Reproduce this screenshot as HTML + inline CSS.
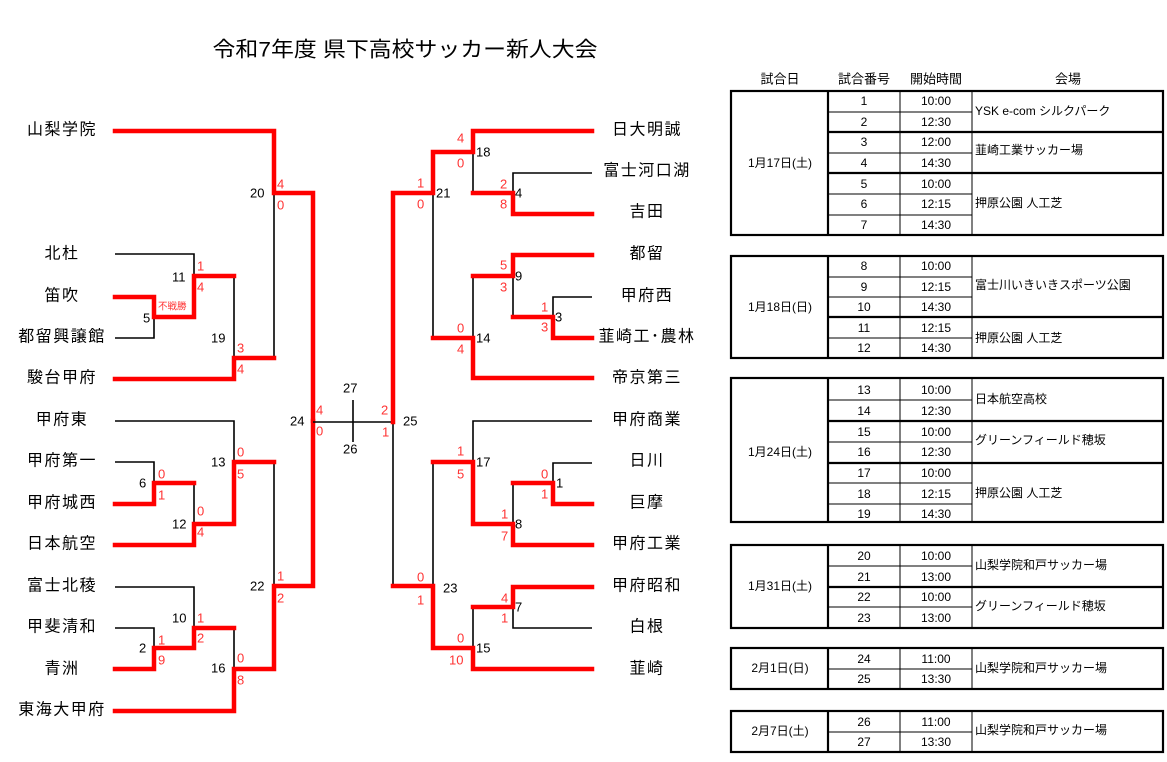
<!DOCTYPE html>
<html><head><meta charset="utf-8"><style>
html,body{margin:0;padding:0;background:#fff;}
svg{display:block;}
text{font-family:"Liberation Sans","Noto Sans CJK JP",sans-serif;}
.r{fill:none;stroke:#f00;stroke-width:4.5;stroke-linejoin:miter;stroke-linecap:square;}
.b{fill:none;stroke:#000;stroke-width:1.6;}
.s{fill:#f33;font-size:13px;dominant-baseline:central;}
.n{fill:#000;font-size:13px;dominant-baseline:central;}
.t{fill:#000;font-size:16px;dominant-baseline:central;text-anchor:middle;letter-spacing:1.5px;}
.h{fill:#000;font-size:13px;dominant-baseline:central;text-anchor:middle;}
.c{fill:#000;font-size:12px;dominant-baseline:central;text-anchor:middle;}
.v{fill:#000;font-size:12px;dominant-baseline:central;}
.tb{stroke:#000;stroke-width:2.2;fill:none;}
.tt{stroke:#000;stroke-width:1;}
</style></head><body>
<svg width="1167" height="762" viewBox="0 0 1167 762" xmlns="http://www.w3.org/2000/svg">
<text x="405" y="50" font-size="21" text-anchor="middle" dominant-baseline="central" textLength="385" lengthAdjust="spacingAndGlyphs">令和7年度 県下高校サッカー新人大会</text>

<!-- left names -->
<g>
<text class="t" x="62" y="130">山梨学院</text>
<text class="t" x="62" y="254">北杜</text>
<text class="t" x="62" y="296">笛吹</text>
<text class="t" x="62" y="337">都留興譲館</text>
<text class="t" x="62" y="378">駿台甲府</text>
<text class="t" x="62" y="420">甲府東</text>
<text class="t" x="62" y="461">甲府第一</text>
<text class="t" x="62" y="503">甲府城西</text>
<text class="t" x="62" y="544">日本航空</text>
<text class="t" x="62" y="586">富士北稜</text>
<text class="t" x="62" y="627">甲斐清和</text>
<text class="t" x="62" y="669">青洲</text>
<text class="t" x="62" y="710">東海大甲府</text>
</g>
<!-- right names -->
<g>
<text class="t" x="647" y="130">日大明誠</text>
<text class="t" x="647" y="171">富士河口湖</text>
<text class="t" x="647" y="212">吉田</text>
<text class="t" x="647" y="254">都留</text>
<text class="t" x="647" y="296">甲府西</text>
<text class="t" x="647" y="337">韮崎工･農林</text>
<text class="t" x="647" y="378">帝京第三</text>
<text class="t" x="647" y="420">甲府商業</text>
<text class="t" x="647" y="461">日川</text>
<text class="t" x="647" y="503">巨摩</text>
<text class="t" x="647" y="544">甲府工業</text>
<text class="t" x="647" y="586">甲府昭和</text>
<text class="t" x="647" y="627">白根</text>
<text class="t" x="647" y="669">韮崎</text>
</g>

<!-- left black lines -->
<polyline class="b" points="115,254 194,254 194,276"/>
<polyline class="b" points="115,338 154,338 154,317"/>
<polyline class="b" points="234,276 234,358"/>
<polyline class="b" points="274,193 274,358"/>
<polyline class="b" points="115,421 234,421 234,462"/>
<polyline class="b" points="115,462 154,462 154,483"/>
<polyline class="b" points="194,483 194,524"/>
<polyline class="b" points="274,462 274,586"/>
<polyline class="b" points="115,587 194,587 194,628"/>
<polyline class="b" points="115,628 154,628 154,648"/>
<polyline class="b" points="234,628 234,669"/>
<polyline class="b" points="313,421 313,586"/>
<!-- left red -->
<polyline class="r" points="115,131 274,131 274,193 313,193 313,421"/>
<polyline class="r" points="115,297 154,297 154,317 194,317 194,276 234,276"/>
<polyline class="r" points="115,379 234,379 234,358 274,358"/>
<polyline class="r" points="115,504 154,504 154,483 194,483"/>
<polyline class="r" points="115,545 194,545 194,524 234,524 234,462 274,462"/>
<polyline class="r" points="115,669 154,669 154,648 194,648 194,628 234,628"/>
<polyline class="r" points="115,711 234,711 234,669 274,669 274,586 313,586 313,421"/>

<!-- center -->
<polyline class="b" points="313,422 393,422"/>
<polyline class="b" points="353,400 353,442"/>
<polyline class="b" points="393,422 393,586"/>

<!-- right black -->
<polyline class="b" points="473,152 473,193"/>
<polyline class="b" points="592,173 513,173 513,193"/>
<polyline class="b" points="433,193 433,338"/>
<polyline class="b" points="473,276 473,338"/>
<polyline class="b" points="513,276 513,317"/>
<polyline class="b" points="592,297 553,297 553,317"/>
<polyline class="b" points="592,421 473,421 473,462"/>
<polyline class="b" points="592,463 553,463 553,483"/>
<polyline class="b" points="513,483 513,524"/>
<polyline class="b" points="433,462 433,586"/>
<polyline class="b" points="473,607 473,648"/>
<polyline class="b" points="513,607 513,628 592,628"/>
<!-- right red -->
<polyline class="r" points="592,131 473,131 473,152 433,152 433,193 393,193 393,422"/>
<polyline class="r" points="592,214 513,214 513,193 473,193"/>
<polyline class="r" points="592,255 513,255 513,276 473,276"/>
<polyline class="r" points="592,338 553,338 553,317 513,317"/>
<polyline class="r" points="433,338 473,338 473,378 592,378"/>
<polyline class="r" points="433,462 473,462 473,524 513,524 513,545 592,545"/>
<polyline class="r" points="513,483 553,483 553,504 592,504"/>
<polyline class="r" points="393,586 433,586 433,648 473,648 473,669 592,669"/>
<polyline class="r" points="473,607 513,607 513,587 592,587"/>

<!-- left labels -->
<text class="n" x="143" y="318">5</text>
<text x="158" y="307" fill="#f33" font-size="9.5" dominant-baseline="central">不戦勝</text>
<text class="n" x="139" y="483">6</text>
<text class="s" x="158" y="474">0</text><text class="s" x="158" y="495">1</text>
<text class="n" x="139" y="648">2</text>
<text class="s" x="158" y="640">1</text><text class="s" x="158" y="660">9</text>
<text class="n" x="172" y="277">11</text>
<text class="s" x="197" y="266">1</text><text class="s" x="197" y="287">4</text>
<text class="n" x="172" y="524">12</text>
<text class="s" x="197" y="511">0</text><text class="s" x="197" y="532">4</text>
<text class="n" x="172" y="618">10</text>
<text class="s" x="197" y="618">1</text><text class="s" x="197" y="638">2</text>
<text class="n" x="211" y="338">19</text>
<text class="s" x="237" y="348">3</text><text class="s" x="237" y="369">4</text>
<text class="n" x="211" y="462">13</text>
<text class="s" x="237" y="452">0</text><text class="s" x="237" y="474">5</text>
<text class="n" x="211" y="668">16</text>
<text class="s" x="237" y="658">0</text><text class="s" x="237" y="680">8</text>
<text class="n" x="250" y="193">20</text>
<text class="s" x="277" y="184">4</text><text class="s" x="277" y="205">0</text>
<text class="n" x="250" y="586">22</text>
<text class="s" x="277" y="576">1</text><text class="s" x="277" y="598">2</text>
<text class="n" x="290" y="421">24</text>
<text class="s" x="316" y="410">4</text><text class="s" x="316" y="431">0</text>
<text class="n" x="343" y="388">27</text>
<text class="n" x="343" y="449">26</text>
<text class="s" x="381" y="410">2</text><text class="s" x="382" y="432">1</text>
<text class="n" x="403" y="421">25</text>

<!-- right labels -->
<text class="s" x="457" y="138">4</text><text class="s" x="457" y="163">0</text>
<text class="n" x="476" y="152">18</text>
<text class="s" x="500" y="184">2</text><text class="s" x="500" y="204">8</text>
<text class="n" x="515" y="193">4</text>
<text class="s" x="417" y="183">1</text><text class="s" x="417" y="204">0</text>
<text class="n" x="436" y="193">21</text>
<text class="s" x="500" y="265">5</text><text class="s" x="500" y="287">3</text>
<text class="n" x="515" y="276">9</text>
<text class="s" x="541" y="307">1</text><text class="s" x="541" y="327">3</text>
<text class="n" x="555" y="317">3</text>
<text class="s" x="457" y="328">0</text><text class="s" x="457" y="349">4</text>
<text class="n" x="476" y="338">14</text>
<text class="s" x="457" y="451">1</text><text class="s" x="457" y="474">5</text>
<text class="n" x="476" y="462">17</text>
<text class="s" x="541" y="474">0</text><text class="s" x="541" y="494">1</text>
<text class="n" x="556" y="483">1</text>
<text class="s" x="501" y="514">1</text><text class="s" x="501" y="536">7</text>
<text class="n" x="515" y="524">8</text>
<text class="s" x="417" y="577">0</text><text class="s" x="417" y="600">1</text>
<text class="n" x="443" y="588">23</text>
<text class="s" x="501" y="598">4</text><text class="s" x="501" y="618">1</text>
<text class="n" x="515" y="607">7</text>
<text class="s" x="457" y="638">0</text><text class="s" x="449" y="660">10</text>
<text class="n" x="476" y="648">15</text>

<!-- table header -->
<text class="h" x="780" y="79">試合日</text>
<text class="h" x="864" y="79">試合番号</text>
<text class="h" x="936" y="79">開始時間</text>
<text class="h" x="1068" y="79">会場</text>

<!-- block 1 -->
<g>
<rect class="tb" x="731" y="91" width="432" height="144"/>
<line class="tb" x1="828" y1="91" x2="828" y2="235"/>
<line class="tt" x1="900" y1="91" x2="900" y2="235"/>
<line class="tt" x1="972" y1="91" x2="972" y2="235"/>
<line class="tt" x1="828" y1="112" x2="972" y2="112"/>
<line class="tb" x1="828" y1="132" x2="1163" y2="132"/>
<line class="tt" x1="828" y1="153" x2="972" y2="153"/>
<line class="tb" x1="828" y1="173" x2="1163" y2="173"/>
<line class="tt" x1="828" y1="194" x2="972" y2="194"/>
<line class="tt" x1="828" y1="215" x2="972" y2="215"/>
<text class="c" x="780" y="163">1月17日(土)</text>
<text class="c" x="864" y="101">1</text><text class="c" x="936" y="101">10:00</text>
<text class="c" x="864" y="122">2</text><text class="c" x="936" y="122">12:30</text>
<text class="c" x="864" y="142">3</text><text class="c" x="936" y="142">12:00</text>
<text class="c" x="864" y="163">4</text><text class="c" x="936" y="163">14:30</text>
<text class="c" x="864" y="184">5</text><text class="c" x="936" y="184">10:00</text>
<text class="c" x="864" y="204">6</text><text class="c" x="936" y="204">12:15</text>
<text class="c" x="864" y="225">7</text><text class="c" x="936" y="225">14:30</text>
<text class="v" x="975" y="111">YSK e-com シルクパーク</text>
<text class="v" x="975" y="150">韮崎工業サッカー場</text>
<text class="v" x="975" y="203">押原公園 人工芝</text>
</g>
<!-- block 2 -->
<g>
<rect class="tb" x="731" y="256" width="432" height="102"/>
<line class="tb" x1="828" y1="256" x2="828" y2="358"/>
<line class="tt" x1="900" y1="256" x2="900" y2="358"/>
<line class="tt" x1="972" y1="256" x2="972" y2="358"/>
<line class="tt" x1="828" y1="277" x2="972" y2="277"/>
<line class="tt" x1="828" y1="297" x2="972" y2="297"/>
<line class="tb" x1="828" y1="317" x2="1163" y2="317"/>
<line class="tt" x1="828" y1="338" x2="972" y2="338"/>
<text class="c" x="780" y="307">1月18日(日)</text>
<text class="c" x="864" y="266">8</text><text class="c" x="936" y="266">10:00</text>
<text class="c" x="864" y="287">9</text><text class="c" x="936" y="287">12:15</text>
<text class="c" x="864" y="307">10</text><text class="c" x="936" y="307">14:30</text>
<text class="c" x="864" y="328">11</text><text class="c" x="936" y="328">12:15</text>
<text class="c" x="864" y="348">12</text><text class="c" x="936" y="348">14:30</text>
<text class="v" x="975" y="285">富士川いきいきスポーツ公園</text>
<text class="v" x="975" y="338">押原公園 人工芝</text>
</g>
<!-- block 3 -->
<g>
<rect class="tb" x="731" y="378" width="432" height="144"/>
<line class="tb" x1="828" y1="378" x2="828" y2="522"/>
<line class="tt" x1="900" y1="378" x2="900" y2="522"/>
<line class="tt" x1="972" y1="378" x2="972" y2="522"/>
<line class="tt" x1="828" y1="400" x2="972" y2="400"/>
<line class="tb" x1="828" y1="421" x2="1163" y2="421"/>
<line class="tt" x1="828" y1="442" x2="972" y2="442"/>
<line class="tb" x1="828" y1="463" x2="1163" y2="463"/>
<line class="tt" x1="828" y1="483" x2="972" y2="483"/>
<line class="tt" x1="828" y1="504" x2="972" y2="504"/>
<text class="c" x="780" y="452">1月24日(土)</text>
<text class="c" x="864" y="390">13</text><text class="c" x="936" y="390">10:00</text>
<text class="c" x="864" y="411">14</text><text class="c" x="936" y="411">12:30</text>
<text class="c" x="864" y="432">15</text><text class="c" x="936" y="432">10:00</text>
<text class="c" x="864" y="452">16</text><text class="c" x="936" y="452">12:30</text>
<text class="c" x="864" y="473">17</text><text class="c" x="936" y="473">10:00</text>
<text class="c" x="864" y="494">18</text><text class="c" x="936" y="494">12:15</text>
<text class="c" x="864" y="514">19</text><text class="c" x="936" y="514">14:30</text>
<text class="v" x="975" y="399">日本航空高校</text>
<text class="v" x="975" y="440">グリーンフィールド穂坂</text>
<text class="v" x="975" y="493">押原公園 人工芝</text>
</g>
<!-- block 4 -->
<g>
<rect class="tb" x="731" y="545" width="432" height="83"/>
<line class="tb" x1="828" y1="545" x2="828" y2="628"/>
<line class="tt" x1="900" y1="545" x2="900" y2="628"/>
<line class="tt" x1="972" y1="545" x2="972" y2="628"/>
<line class="tt" x1="828" y1="566" x2="972" y2="566"/>
<line class="tb" x1="828" y1="587" x2="1163" y2="587"/>
<line class="tt" x1="828" y1="607" x2="972" y2="607"/>
<text class="c" x="780" y="586">1月31日(土)</text>
<text class="c" x="864" y="556">20</text><text class="c" x="936" y="556">10:00</text>
<text class="c" x="864" y="577">21</text><text class="c" x="936" y="577">13:00</text>
<text class="c" x="864" y="597">22</text><text class="c" x="936" y="597">10:00</text>
<text class="c" x="864" y="618">23</text><text class="c" x="936" y="618">13:00</text>
<text class="v" x="975" y="565">山梨学院和戸サッカー場</text>
<text class="v" x="975" y="606">グリーンフィールド穂坂</text>
</g>
<!-- block 5 -->
<g>
<rect class="tb" x="731" y="648" width="432" height="41"/>
<line class="tb" x1="828" y1="648" x2="828" y2="689"/>
<line class="tt" x1="900" y1="648" x2="900" y2="689"/>
<line class="tt" x1="972" y1="648" x2="972" y2="689"/>
<line class="tt" x1="828" y1="669" x2="972" y2="669"/>
<text class="c" x="780" y="668">2月1日(日)</text>
<text class="c" x="864" y="659">24</text><text class="c" x="936" y="659">11:00</text>
<text class="c" x="864" y="679">25</text><text class="c" x="936" y="679">13:30</text>
<text class="v" x="975" y="668">山梨学院和戸サッカー場</text>
</g>
<!-- block 6 -->
<g>
<rect class="tb" x="731" y="711" width="432" height="41"/>
<line class="tb" x1="828" y1="711" x2="828" y2="752"/>
<line class="tt" x1="900" y1="711" x2="900" y2="752"/>
<line class="tt" x1="972" y1="711" x2="972" y2="752"/>
<line class="tt" x1="828" y1="732" x2="972" y2="732"/>
<text class="c" x="780" y="731">2月7日(土)</text>
<text class="c" x="864" y="722">26</text><text class="c" x="936" y="722">11:00</text>
<text class="c" x="864" y="742">27</text><text class="c" x="936" y="742">13:30</text>
<text class="v" x="975" y="730">山梨学院和戸サッカー場</text>
</g>
</svg>
</body></html>
